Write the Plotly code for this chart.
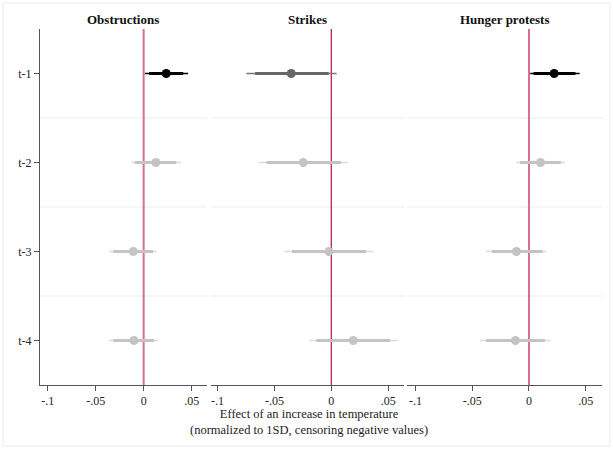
import plotly.graph_objects as go

# Lag labels (rows, top to bottom)
lags = ["t-1", "t-2", "t-3", "t-4"]
panels = ["Obstructions", "Strikes", "Hunger protests"]

# Point estimates
coef_obstructions = [0.0235, 0.0127, -0.0108, -0.0101]
coef_strikes = [-0.0352, -0.0246, -0.0020, 0.0193]
coef_hunger = [0.0222, 0.0102, -0.0111, -0.0120]

# 95% confidence intervals
lo95_obstructions = [0.0013, -0.0127, -0.0358, -0.0360]
hi95_obstructions = [0.0464, 0.0389, 0.0131, 0.0150]
lo95_strikes = [-0.0746, -0.0637, -0.0410, -0.0193]
hi95_strikes = [0.0047, 0.0146, 0.0370, 0.0585]
lo95_hunger = [0.0010, -0.0114, -0.0377, -0.0430]
hi95_hunger = [0.0447, 0.0316, 0.0155, 0.0190]

# 90% confidence intervals
lo90_obstructions = [0.0057, -0.0090, -0.0316, -0.0316]
hi90_obstructions = [0.0412, 0.0340, 0.0096, 0.0108]
lo90_strikes = [-0.0669, -0.0570, -0.0345, -0.0130]
hi90_strikes = [-0.0023, 0.0085, 0.0307, 0.0518]
lo90_hunger = [0.0040, -0.0080, -0.0327, -0.0377]
hi90_hunger = [0.0410, 0.0280, 0.0120, 0.0140]

x_tickvals = [-0.1, -0.05, 0, 0.05]
x_ticktext = ["-.1", "-.05", "0", ".05"]

data = [
    (coef_obstructions, lo95_obstructions, hi95_obstructions, lo90_obstructions, hi90_obstructions),
    (coef_strikes, lo95_strikes, hi95_strikes, lo90_strikes, hi90_strikes),
    (coef_hunger, lo95_hunger, hi95_hunger, lo90_hunger, hi90_hunger),
]

W, H = 613, 449
FONT = "Liberation Serif"

# panel placement in pixels
x_px = [(40, 207), (211, 404), (407, 602)]
x_rng = [[-0.108, 0.066], [-0.1057, 0.0639], [-0.1076, 0.0644]]
y_top, y_bot = 29, 385
zero_style = [("#d7708c", 2), ("#b8123e", 1.2), ("#d7708c", 2)]

fig = go.Figure()
shapes = []
annotations = []

for p, (coef, lo95, hi95, lo90, hi90) in enumerate(data):
    xa = "x" if p == 0 else f"x{p + 1}"
    for i, lag in enumerate(lags):
        row = i + 1
        if lo95[i] > 0 or hi95[i] < 0:
            dot, thin, thick = "#000000", "#000000", "#000000"
        elif lo90[i] > 0 or hi90[i] < 0:
            dot, thin, thick = "#666666", "#7a7a7a", "#666666"
        else:
            dot, thin, thick = "#c4c4c4", "#dadada", "#c4c4c4"
        fig.add_trace(go.Scatter(x=[lo95[i], hi95[i]], y=[row, row], xaxis=xa, yaxis="y",
                                 mode="lines", line=dict(color=thin, width=1.5),
                                 showlegend=False, hoverinfo="skip"))
        fig.add_trace(go.Scatter(x=[lo90[i], hi90[i]], y=[row, row], xaxis=xa, yaxis="y",
                                 mode="lines", line=dict(color=thick, width=3),
                                 showlegend=False, hoverinfo="skip"))
        fig.add_trace(go.Scatter(x=[coef[i]], y=[row], xaxis=xa, yaxis="y",
                                 mode="markers", marker=dict(color=dot, size=9),
                                 showlegend=False, hoverinfo="skip"))

    x0, x1 = x_px[p]
    key = "xaxis" if p == 0 else f"xaxis{p + 1}"
    fig.layout[key] = dict(
        domain=[x0 / W, x1 / W], anchor="y", range=x_rng[p],
        tickvals=x_tickvals, ticktext=x_ticktext,
        showgrid=False, zeroline=False,
        showline=True, linecolor="#555555", linewidth=1,
        ticks="outside", ticklen=5, tickcolor="#555555",
        tickfont=dict(family=FONT, size=12, color="#222222"),
    )
    # row separators
    for g in [1.5, 2.5, 3.5]:
        shapes.append(dict(type="line", xref=f"{xa} domain", yref="y", x0=0, x1=1, y0=g, y1=g,
                           line=dict(color="#e8eff1", width=1), layer="below"))
    # reference line at zero
    zc, zw = zero_style[p]
    shapes.append(dict(type="line", xref=xa, yref="y domain", x0=0, x1=0, y0=0, y1=1,
                       line=dict(color=zc, width=zw), layer="below"))
    annotations.append(dict(text=f"<b>{panels[p]}</b>", x=(x0 + x1) / 2 / W, y=1 - 20 / H,
                            xref="paper", yref="paper", xanchor="center", yanchor="middle",
                            showarrow=False, font=dict(family=FONT, size=13, color="#111111")))

fig.layout["yaxis"] = dict(
    domain=[1 - y_bot / H, 1 - y_top / H], anchor="x", range=[4.5, 0.5],
    tickvals=[1, 2, 3, 4], ticktext=lags, showgrid=False, zeroline=False,
    showline=True, linecolor="#555555", linewidth=1,
    ticks="outside", ticklen=5, tickcolor="#555555",
    tickfont=dict(family=FONT, size=12, color="#222222"),
)

annotations.append(dict(text="Effect of an increase in temperature<br>(normalized to 1SD, censoring negative values)",
                        x=309 / W, y=1 - 422 / H, xref="paper", yref="paper",
                        xanchor="center", yanchor="middle", showarrow=False,
                        font=dict(family=FONT, size=12.5, color="#222222"), align="center"))

# light frame round the whole graphic
shapes.append(dict(type="rect", xref="paper", yref="paper", x0=3 / W, x1=610 / W,
                   y0=1 - 446 / H, y1=1 - 3 / H, line=dict(color="#ebebeb", width=1), layer="below"))

fig.update_layout(width=W, height=H, margin=dict(l=0, r=0, t=0, b=0),
                  paper_bgcolor="white", plot_bgcolor="white",
                  shapes=shapes, annotations=annotations)

fig.write_html("out.html")
